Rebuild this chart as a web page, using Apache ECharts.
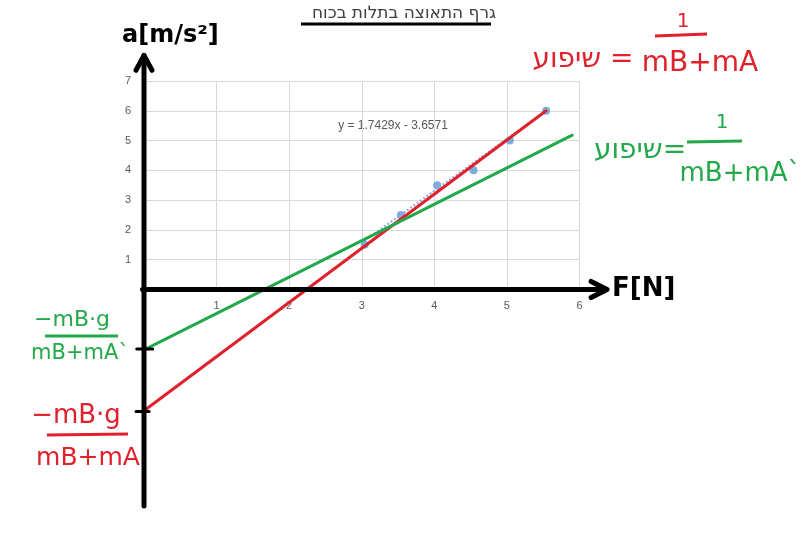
<!DOCTYPE html>
<html><head><meta charset="utf-8">
<script src="https://cdn.jsdelivr.net/npm/echarts@6/dist/echarts.min.js"></script>
<style>html,body{margin:0;padding:0;background:#fff}#c{width:808px;height:557px}</style>
</head><body><div id="c"></div>
<script>
// ---- data ----
const titleText = 'גרף התאוצה בתלות בכוח';
const forceN = [3.04, 3.54, 4.04, 4.54, 5.04, 5.54];
const accel = [1.5, 2.5, 3.5, 4.0, 5.0, 6.0];
const trendX = [3.04, 5.54];
const trendY = [1.64, 6.0];
const trendLabel = 'y = 1.7429x - 3.6571';
const redX = [0, 5.54];
const redY = [-4.07, 6.0];
const greenX = [0, 5.9];
const greenY = [-2.03, 5.18];
const xTickLabels = ['', '1', '2', '3', '4', '5', '6'];
const yTickLabels = ['', '1', '2', '3', '4', '5', '6', '7'];
const slopeWord = 'שיפוע';

const RED = '#e0202a', GREEN = '#23a84a', BLACK = '#000';
const pairs = (xs, ys) => xs.map((x, i) => [x, ys[i]]);
const lineSeries = (data, color, width, extra) => Object.assign({
  type: 'line', data, symbol: 'none', clip: false, silent: true,
  xAxisIndex: 1, yAxisIndex: 1,
  lineStyle: { color, width, cap: 'round', join: 'round' }, z: 5
}, extra || {});

// plot scale (px per unit) shared by both grids
const L = 144, T = 81, W = 435.5, H = 208.5;
const sx = W / 6, sy = H / 7;

const chart = echarts.init(document.getElementById('c'), null, { renderer: 'canvas' });
const hw = '"DejaVu Sans", sans-serif';
const hidden = { show: false };
const option = {
  animation: false,
  backgroundColor: '#fff',
  title: {
    text: titleText, left: 'center', top: 0,
    textStyle: { color: '#404040', fontSize: 17, fontWeight: 'normal', fontFamily: '"DejaVu Sans", sans-serif' }
  },
  grid: [
    { left: L, top: T, width: W, height: H, containLabel: false },
    { left: L - sx, top: T - sy, width: 8 * sx, height: 16 * sy, containLabel: false }
  ],
  xAxis: [{
    type: 'value', min: 0, max: 6, interval: 1, gridIndex: 0,
    axisLine: hidden, axisTick: hidden,
    axisLabel: { color: '#595959', fontSize: 11, margin: 11, fontFamily: '"Liberation Sans", Arial, sans-serif',
      formatter: v => xTickLabels[Math.round(v)] },
    splitLine: { lineStyle: { color: '#d9d9d9', width: 1 } }
  }, {
    type: 'value', min: -1, max: 7, gridIndex: 1,
    axisLine: hidden, axisTick: hidden, axisLabel: hidden, splitLine: hidden
  }],
  yAxis: [{
    type: 'value', min: 0, max: 7, interval: 1, gridIndex: 0,
    axisLine: hidden, axisTick: hidden,
    axisLabel: { color: '#595959', fontSize: 11, margin: 13, fontFamily: '"Liberation Sans", Arial, sans-serif',
      formatter: v => yTickLabels[Math.round(v)] },
    splitLine: { lineStyle: { color: '#d9d9d9', width: 1 } }
  }, {
    type: 'value', min: -8, max: 8, gridIndex: 1,
    axisLine: hidden, axisTick: hidden, axisLabel: hidden, splitLine: hidden
  }],
  series: [
    { type: 'scatter', data: pairs(forceN, accel), symbolSize: 8, itemStyle: { color: '#5b9bd5' }, z: 3 },
    lineSeries(pairs(trendX, trendY), '#8faadc', 2, { lineStyle: { color: '#8faadc', width: 2, type: 'dotted' }, z: 4 }),
    lineSeries(pairs(redX, redY), RED, 3, { z: 6 }),
    lineSeries(pairs(greenX, greenY), GREEN, 3, { z: 7 }),
    // hand-drawn black axes
    lineSeries([[0, -7.27], [0, 7.86]], BLACK, 5, { z: 10 }),
    lineSeries([[-0.02, 0], [6.36, 0]], BLACK, 5, { z: 10 }),
    lineSeries([[-0.11, 7.36], [0, 7.86], [0.11, 7.36]], BLACK, 5, { z: 10 }),
    lineSeries([[6.16, 0.27], [6.38, 0], [6.16, -0.27]], BLACK, 5, { z: 10 }),
    lineSeries([[-0.1, -2.0], [0.12, -2.0]], BLACK, 3, { z: 10 }),
    lineSeries([[-0.11, -4.1], [0.07, -4.1]], BLACK, 3, { z: 10 })
  ],
  graphic: [
    { type: 'line', shape: { x1: 301, y1: 24, x2: 491, y2: 24 }, style: { stroke: '#000', lineWidth: 3 } },
    { type: 'text', x: 393, y: 126, style: { text: trendLabel, fill: '#595959', font: '12px "Liberation Sans", Arial, sans-serif', textAlign: 'center', textVerticalAlign: 'middle' } },
    // axis names
    { type: 'text', x: 122, y: 36, style: { text: 'a[m/s²]', fill: BLACK, font: 'bold 24px ' + hw, textVerticalAlign: 'middle' } },
    { type: 'text', x: 612, y: 289, style: { text: 'F[N]', fill: BLACK, font: 'bold 26px ' + hw, textVerticalAlign: 'middle' } },
    // red slope
    { type: 'text', x: 583, y: 60, style: { text: slopeWord + ' =', fill: RED, font: '28px ' + hw, textAlign: 'center', textVerticalAlign: 'middle' } },
    { type: 'text', x: 683, y: 22, style: { text: '1', fill: RED, font: '20px ' + hw, textAlign: 'center', textVerticalAlign: 'middle' } },
    { type: 'line', shape: { x1: 655, y1: 36, x2: 707, y2: 34 }, style: { stroke: RED, lineWidth: 3 } },
    { type: 'text', x: 700, y: 64, style: { text: 'mB+mA', fill: RED, font: '28px ' + hw, textAlign: 'center', textVerticalAlign: 'middle' } },
    // green slope
    { type: 'text', x: 640, y: 151, style: { text: slopeWord + '=', fill: GREEN, font: '28px ' + hw, textAlign: 'center', textVerticalAlign: 'middle' } },
    { type: 'text', x: 722, y: 123, style: { text: '1', fill: GREEN, font: '20px ' + hw, textAlign: 'center', textVerticalAlign: 'middle' } },
    { type: 'line', shape: { x1: 687, y1: 142, x2: 742, y2: 141 }, style: { stroke: GREEN, lineWidth: 3 } },
    { type: 'text', x: 740, y: 174, style: { text: 'mB+mA`', fill: GREEN, font: '26px ' + hw, textAlign: 'center', textVerticalAlign: 'middle' } },
    // green intercept
    { type: 'text', x: 72, y: 320, style: { text: '−mB·g', fill: GREEN, font: '22px ' + hw, textAlign: 'center', textVerticalAlign: 'middle' } },
    { type: 'line', shape: { x1: 45, y1: 336, x2: 118, y2: 336 }, style: { stroke: GREEN, lineWidth: 3 } },
    { type: 'text', x: 80, y: 354, style: { text: 'mB+mA`', fill: GREEN, font: '21px ' + hw, textAlign: 'center', textVerticalAlign: 'middle' } },
    // red intercept
    { type: 'text', x: 76, y: 416, style: { text: '−mB·g', fill: RED, font: '26px ' + hw, textAlign: 'center', textVerticalAlign: 'middle' } },
    { type: 'line', shape: { x1: 47, y1: 435, x2: 128, y2: 434 }, style: { stroke: RED, lineWidth: 3 } },
    { type: 'text', x: 88, y: 458, style: { text: 'mB+mA', fill: RED, font: '25px ' + hw, textAlign: 'center', textVerticalAlign: 'middle' } }
  ]
};
chart.setOption(option);
</script>
</body></html>
